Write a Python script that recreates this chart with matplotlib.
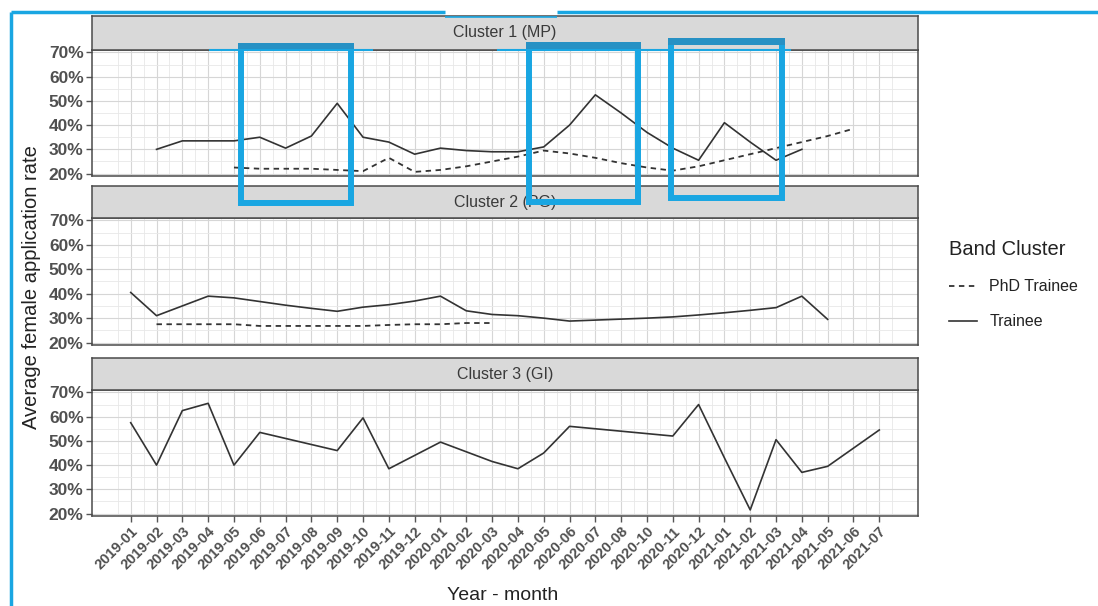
import numpy as np
import matplotlib
matplotlib.use('Agg')
import matplotlib.pyplot as plt
from matplotlib.patches import Rectangle
from matplotlib.lines import Line2D

plt.rcParams['font.family'] = ['Liberation Sans', 'DejaVu Sans']

nan = np.nan
months = ['2019-01', '2019-02', '2019-03', '2019-04', '2019-05', '2019-06',
          '2019-07', '2019-08', '2019-09', '2019-10', '2019-11', '2019-12',
          '2020-01', '2020-02', '2020-03', '2020-04', '2020-05', '2020-06',
          '2020-07', '2020-08', '2020-10', '2020-11', '2020-12',
          '2021-01', '2021-02', '2021-03', '2021-04', '2021-05', '2021-06', '2021-07']

panel_titles = ['Cluster 1 (MP)', 'Cluster 2 (PG)', 'Cluster 3 (GI)']
series_names = ['PhD Trainee', 'Trainee']

# values in percent, nan = no data
mp_trainee = [nan, 30, 33.5, 33.5, 33.5, 35, 30.5, 35.5, 49, 35, 33, 28, 30.5, 29.5,
              29, 29, 31, 40, 52.5, 45, 37, 30.5, 25.5, 41, 33, 25.5, 30, nan, nan, nan]
mp_phd = [nan, nan, nan, nan, 22.5, 22, 22, 22, 21.5, 21, 26.5, 20.7, 21.5, 23,
          25, 27, 29.5, 28.3, 26.5, 24.3, 22.5, 21.2, 23, 25.5, 28, 30.5, 33, 35.5, 38.5, nan]
pg_trainee = [40.5, 31, 35, 39, 38.3, 36.8, 35.3, 34, 32.8, 34.5, 35.5, 37, 39, 33,
              31.5, 31, 30, 28.8, 29.2, 29.6, 30, 30.5, 31.3, 32.2, 33.2, 34.3, 39, 29.5, nan, nan]
pg_phd = [nan, 27.5, 27.5, 27.5, 27.5, 26.8, 26.8, 26.8, 26.8, 26.8, 27.2, 27.5, 27.5, 28,
          28, nan, nan, nan, nan, nan, nan, nan, nan, nan, nan, nan, nan, nan, nan, nan]
gi_trainee = [57.5, 40, 62.5, 65.5, 40, 53.5, 51, 48.5, 46, 59.5, 38.5, 44, 49.5, 45.5,
              41.5, 38.5, 45, 56, 55, 54, 53, 52, 65, 43, 21.5, 50.5, 37, 39.5, 47, 54.5]
gi_phd = [nan] * 30

panels = [(mp_phd, mp_trainee), (pg_phd, pg_trainee), (gi_phd, gi_trainee)]

W, H = 1098, 606
fig = plt.figure(figsize=(W / 100, H / 100), dpi=100)
fig.patch.set_facecolor('white')

L, R = 92, 918
layout = [(16, 50, 176), (186, 218, 345), (358, 390, 516)]  # strip top, plot top, plot bottom

x = np.arange(len(months))
tick_col = '#505050'
line_col = '#333333'
handles = None
for i, ((st, pt, pb), (phd, trn)) in enumerate(zip(layout, panels)):
    ax = fig.add_axes([L / W, 1 - pb / H, (R - L) / W, (pb - pt) / H])
    sax = fig.add_axes([L / W, 1 - pt / H, (R - L) / W, (pt - st) / H])
    sax.set_facecolor('#D9D9D9')
    sax.set_xticks([]); sax.set_yticks([])
    for s in sax.spines.values():
        s.set_color('#4A4A4A'); s.set_linewidth(1.1)
    sax.text(0.5, 0.5, panel_titles[i], ha='center', va='center', fontsize=11.5,
             color='#3A3A3A', transform=sax.transAxes)

    hp, = ax.plot(x, np.array(phd, float) / 100, color=line_col, lw=1.3,
                  linestyle=(0, (3.0, 2.5)), label=series_names[0])
    ht, = ax.plot(x, np.array(trn, float) / 100, color=line_col, lw=1.2,
                  linestyle='-', label=series_names[1])
    if handles is None:
        handles = [hp, ht]
    ax.set_xlim(-1.5, len(months) - 0.5 + 1.0)
    ax.set_ylim(0.19, 0.71)
    ax.set_yticks(np.arange(0.2, 0.71, 0.1))
    ax.set_yticks(np.arange(0.25, 0.70, 0.1), minor=True)
    ax.set_xticks(x)
    ax.set_xticks(np.arange(-0.5, len(months), 1.0), minor=True)
    ax.grid(which='major', color='#D6D6D6', lw=0.8)
    ax.grid(which='minor', color='#E8E8E8', lw=0.6)
    ax.set_axisbelow(True)
    ax.set_yticklabels([f'{int(round(v * 100))}%' for v in np.arange(0.2, 0.71, 0.1)])
    ax.tick_params(axis='y', which='major', length=4, width=1, color='#555555',
                   labelsize=12.5, labelcolor=tick_col, pad=2)
    ax.tick_params(which='minor', length=0)
    for lab in ax.get_yticklabels():
        lab.set_fontweight('bold')
    for s in ax.spines.values():
        s.set_color('#4A4A4A'); s.set_linewidth(1.1)
    if i < 2:
        ax.tick_params(axis='x', which='major', length=0, labelbottom=False)
    else:
        ax.tick_params(axis='x', which='major', length=4, width=1, color='#555555',
                       labelsize=10.5, labelcolor=tick_col, pad=2)
        ax.set_xticklabels(months, rotation=45, ha='right', va='top',
                           rotation_mode='anchor', fontweight='bold')

fig.text(32 / W, 1 - 287 / H, 'Average female application rate', rotation=90,
         ha='center', va='center', fontsize=14.5, color='#222222')
fig.text(503 / W, 1 - 596 / H, 'Year - month', ha='center', va='center',
         fontsize=14, color='#222222')

leg = fig.legend(handles=handles, labels=series_names, title='Band Cluster',
                 loc='upper left', bbox_to_anchor=(935 / W, 1 - 226 / H),
                 frameon=False, fontsize=11.5, title_fontsize=14.5,
                 handlelength=1.7, labelspacing=1.25, alignment='left')
leg.get_title().set_color('#222222')
for t in leg.get_texts():
    t.set_color('#222222')

# blue annotation overlay
ov = fig.add_axes([0, 0, 1, 1], zorder=10)
ov.set_xlim(0, W); ov.set_ylim(H, 0); ov.axis('off'); ov.patch.set_alpha(0)
blue = '#19A6E2'
dark = '#2791C4'
ov.plot([11, 11], [12, H], color=blue, lw=2.5, solid_capstyle='butt')
ov.plot([11, 445], [12, 12], color=blue, lw=2.5, solid_capstyle='butt')
ov.plot([445, 557], [17, 17], color=blue, lw=1.2, solid_capstyle='butt')
ov.plot([557, W], [12, 12], color=blue, lw=2.5, solid_capstyle='butt')
ov.plot([210, 372], [50, 50], color=blue, lw=1.5)
ov.plot([498, 790], [50, 50], color=blue, lw=1.5)
for (x0, y0, x1, y1) in [(241, 47, 351, 203), (529, 46, 638, 202), (671, 42, 782, 198)]:
    ov.add_patch(Rectangle((x0, y0), x1 - x0, y1 - y0, fill=False, ec=blue, lw=4.3))
    ov.add_patch(Rectangle((x0 - 3, y0 - 4), x1 - x0 + 6, 7, fc=dark, ec='none'))

fig.savefig('out.png', dpi=100)
